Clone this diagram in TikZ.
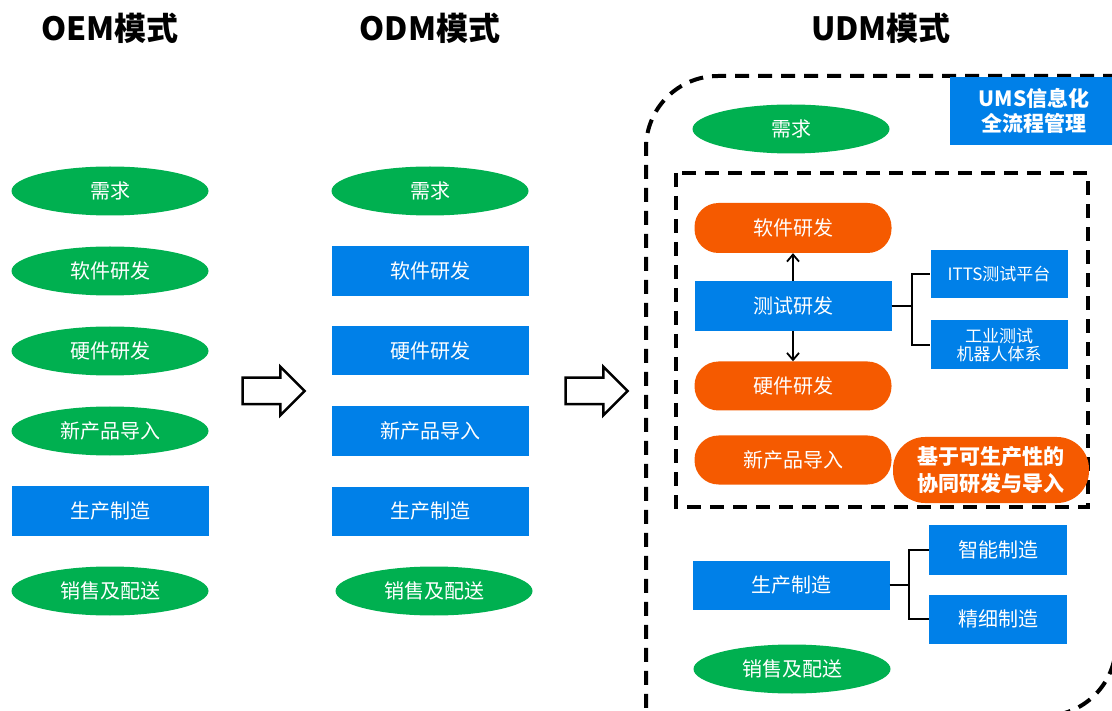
\documentclass[tikz,border=0pt]{standalone}
\usepackage{fontspec}
\setmainfont{Noto Sans CJK SC}
\usetikzlibrary{shapes.geometric,shapes.arrows,arrows.meta}
\definecolor{modegreen}{RGB}{0,176,80}
\definecolor{modeblue}{RGB}{0,128,232}
\definecolor{modeorange}{RGB}{245,90,0}

\begin{document}
\begin{tikzpicture}[x=1pt,y=-1pt]
        \tikzstyle{modetitle} = [font=\fontsize{32}{36}\selectfont\bfseries]
        \tikzstyle{greenell} = [ellipse, fill=modegreen, text=white, minimum width=197pt, minimum height=49pt, inner sep=0pt, font=\fontsize{20}{24}\selectfont]
        \tikzstyle{bluebox} = [rectangle, fill=modeblue, text=white, minimum width=197pt, minimum height=49pt, inner sep=0pt, align=center, font=\fontsize{20}{24}\selectfont]
        \tikzstyle{smallbox} = [bluebox, minimum width=137pt, font=\fontsize{17}{18}\selectfont]
        \tikzstyle{orangepill} = [rectangle, rounded corners=24pt, fill=modeorange, text=white, minimum width=197pt, minimum height=49pt, inner sep=0pt, align=center, font=\fontsize{20}{24}\selectfont]
        \tikzstyle{bigarrow} = [single arrow, draw=black, line width=2.5pt, fill=white, minimum height=62pt, inner xsep=0pt, inner ysep=12pt, single arrow head extend=11pt]
        \tikzstyle{frame} = [line width=4pt, dash pattern=on 14pt off 9pt]
        \tikzstyle{arrow} = [line width=1.8pt, -{Straight Barb[length=7pt,width=12pt]}]
        \tikzstyle{branch} = [line width=2pt]
        \useasboundingbox (0,0) rectangle (1112,711);
        % titles
        \node (oemtitle) [modetitle] at (110,28) {OEM模式};
        \node (odmtitle) [modetitle] at (430,28) {ODM模式};
        \node (udmtitle) [modetitle] at (881,28) {UDM模式};
        % OEM
        \node (oemreq) [greenell] at (110,191) {需求};
        \node (oemsoft) [greenell] at (110,271) {软件研发};
        \node (oemhard) [greenell] at (110,351) {硬件研发};
        \node (oemnpi) [greenell] at (110,431) {新产品导入};
        \node (oemprod) [bluebox, minimum height=50pt] at (110,511) {生产制造};
        \node (oemsale) [greenell] at (110,591) {销售及配送};
        % ODM
        \node (odmreq) [greenell] at (430,191) {需求};
        \node (odmsoft) [bluebox, minimum height=50pt] at (430,271) {软件研发};
        \node (odmhard) [bluebox] at (430,351) {硬件研发};
        \node (odmnpi) [bluebox] at (430,431) {新产品导入};
        \node (odmprod) [bluebox] at (430,511) {生产制造};
        \node (odmsale) [greenell] at (434,591) {销售及配送};
        \node (arr1) [bigarrow] at (267,391) {};
        \node (arr2) [bigarrow] at (590,391) {};
        % UDM
        \draw[frame, rounded corners=72pt] (1140,76) -- (646,76) -- (646,740);
        \draw[frame, rounded corners=72pt] (1116,40) -- (1116,716) -- (960,716);
        \draw[frame] (676,173) rectangle (1088,507);
        \node (ums) [bluebox, minimum width=168pt, minimum height=68pt, font=\fontsize{21}{25}\selectfont\bfseries] at (1034,111) {UMS信息化\\全流程管理};
        \node (udmreq) [greenell] at (791,129) {需求};
        \node (udmsoft) [orangepill, minimum height=50pt] at (793,228) {软件研发};
        \node (udmtest) [bluebox, minimum height=50pt] at (793,306) {测试研发};
        \node (udmhard) [orangepill] at (793,386) {硬件研发};
        \node (udmnpi) [orangepill] at (793,460) {新产品导入};
        \node (codev) [orangepill, minimum width=196pt, minimum height=66pt, rounded corners=32pt, font=\fontsize{21}{27}\selectfont\bfseries] at (991,470) {基于可生产性的\\协同研发与导入};
        \node (itts) [smallbox, minimum height=48pt] at (999,274) {ITTS测试平台};
        \node (robot) [smallbox] at (999,345) {工业测试\\机器人体系};
        \node (udmprod) [bluebox] at (791,585) {生产制造};
        \node (smart) [bluebox, minimum width=138pt, minimum height=50pt] at (998,550) {智能制造};
        \node (fine) [bluebox, minimum width=138pt] at (998,619) {精细制造};
        \node (udmsale) [greenell] at (792,669) {销售及配送};
        \draw[arrow] (udmtest) to (udmsoft);
        \draw[arrow] (udmtest) to (udmhard);
        \draw[branch] (udmtest.east) -- ++(20,0) |- (itts.west);
        \draw[branch] (udmtest.east) -- ++(20,0) |- (robot.west);
        \draw[branch] (udmprod.east) -- ++(19,0) |- (smart.west);
        \draw[branch] (udmprod.east) -- ++(19,0) |- (fine.west);
    \end{tikzpicture}
\end{document}
